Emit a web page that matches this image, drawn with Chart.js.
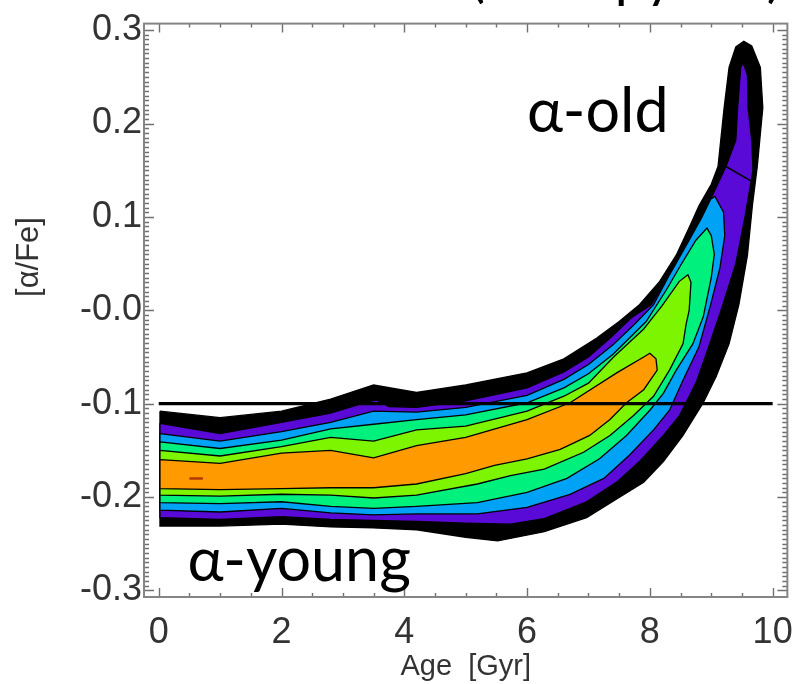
<!DOCTYPE html>
<html>
<head>
<meta charset="utf-8">
<script src="https://cdn.jsdelivr.net/npm/chart.js@4.4.1/dist/chart.umd.min.js"></script>
<style>
  html, body { margin: 0; padding: 0; background: #fff; }
  canvas { display: block; }
</style>
</head>
<body>
<canvas id="chart" width="807" height="684" style="width:807px;height:684px"></canvas>
<script>
// --- axis ticks ---
const X_TICKS = [0, 2, 4, 6, 8, 10];
const Y_TICKS = [-0.3, -0.2, -0.1, 0, 0.1, 0.2, 0.3];
const Y_TICK_LABELS = ['-0.3', '-0.2', '-0.1', '-0.0', '0.1', '0.2', '0.3'];

// --- contour levels, outermost first: [age, alpha/Fe] ---
const LEVEL_BLACK = [
  [0.02,-0.108],[1.0,-0.115],[2.0,-0.108],[2.8,-0.095],[3.5,-0.080],[4.2,-0.088],[5.0,-0.080],[6.0,-0.067],
  [6.6,-0.052],[7.13,-0.030],[7.5,-0.012],[7.83,0.006],[8.15,0.030],[8.43,0.059],[8.65,0.090],[8.80,0.112],
  [9.0,0.135],[9.11,0.154],[9.21,0.217],[9.29,0.260],[9.40,0.282],[9.53,0.288],[9.66,0.283],[9.80,0.260],
  [9.84,0.217],[9.75,0.154],[9.67,0.112],[9.59,0.059],[9.45,0.006],[9.29,-0.036],[9.08,-0.071],[8.87,-0.099],
  [8.54,-0.134],[8.22,-0.162],[7.90,-0.184],[7.46,-0.202],[6.97,-0.222],[6.28,-0.237],[5.52,-0.247],[5.0,-0.243],
  [4.2,-0.235],[3.5,-0.233],[2.8,-0.232],[2.0,-0.229],[1.0,-0.231],[0.02,-0.231],[0.02,-0.108]
];
const LEVEL_PURPLE = [
  [0.02,-0.121],[1.0,-0.132],[2.0,-0.120],[2.8,-0.110],[3.4,-0.098],[3.55,-0.096],[3.75,-0.103],[4.2,-0.104],
  [5.0,-0.097],[6.0,-0.083],[6.6,-0.066],[7.0,-0.050],[7.35,-0.030],[7.7,-0.008],[8.02,0.006],[8.3,0.035],
  [8.60,0.059],[8.94,0.112],[9.24,0.154],[9.40,0.182],[9.43,0.217],[9.48,0.260],[9.52,0.265],[9.59,0.252],
  [9.60,0.217],[9.66,0.182],[9.68,0.150],[9.55,0.100],[9.40,0.050],[9.19,0.006],[8.96,-0.039],[8.75,-0.078],
  [8.48,-0.113],[8.22,-0.134],[7.83,-0.162],[7.46,-0.184],[6.97,-0.205],[6.28,-0.223],[5.73,-0.229],[5.0,-0.228],
  [4.2,-0.226],[3.5,-0.225],[2.8,-0.224],[2.0,-0.221],[1.0,-0.224],[0.02,-0.222],[0.02,-0.121]
];
const LEVEL_BLUE = [
  [0.02,-0.132],[1.0,-0.140],[2.0,-0.130],[2.8,-0.120],[3.5,-0.108],[4.2,-0.109],[5.0,-0.104],[6.0,-0.091],
  [6.6,-0.074],[7.0,-0.058],[7.4,-0.037],[7.75,-0.015],[8.06,0.006],[8.32,0.038],[8.64,0.075],[8.85,0.100],
  [8.99,0.119],[9.06,0.122],[9.20,0.105],[9.22,0.080],[9.14,0.045],[8.99,0.006],[8.80,-0.039],[8.54,-0.075],
  [8.32,-0.107],[8.06,-0.128],[7.67,-0.155],[7.25,-0.180],[6.70,-0.197],[6.0,-0.211],[5.19,-0.218],[4.2,-0.218],
  [3.5,-0.219],[2.8,-0.217],[2.0,-0.212],[1.0,-0.216],[0.02,-0.214],[0.02,-0.132]
];
const LEVEL_GREEN = [
  [0.02,-0.141],[1.0,-0.148],[2.0,-0.139],[2.8,-0.127],[3.5,-0.122],[4.2,-0.117],[5.0,-0.112],[6.0,-0.099],
  [6.6,-0.083],[7.0,-0.068],[7.4,-0.047],[7.94,-0.012],[8.27,0.022],[8.5,0.048],[8.75,0.075],[8.93,0.088],
  [9.0,0.080],[9.05,0.060],[9.0,0.035],[8.87,-0.007],[8.70,-0.036],[8.43,-0.064],[8.22,-0.089],[8.0,-0.107],
  [7.62,-0.134],[7.18,-0.159],[6.65,-0.180],[6.0,-0.195],[5.19,-0.206],[4.2,-0.210],[3.5,-0.212],[2.8,-0.210],
  [2.0,-0.205],[1.0,-0.207],[0.02,-0.206],[0.02,-0.141]
];
const LEVEL_LIME = [
  [0.02,-0.150],[1.0,-0.156],[2.0,-0.146],[2.8,-0.136],[3.5,-0.140],[4.2,-0.128],[5.0,-0.124],[6.0,-0.108],
  [6.6,-0.092],[7.0,-0.078],[7.41,-0.050],[7.9,-0.020],[8.2,0.005],[8.48,0.031],[8.62,0.038],[8.67,0.030],
  [8.64,0.000],[8.59,-0.015],[8.54,-0.036],[8.32,-0.064],[8.06,-0.092],[7.73,-0.113],[7.35,-0.134],[6.92,-0.152],
  [6.28,-0.170],[5.73,-0.177],[5.19,-0.186],[4.2,-0.198],[3.5,-0.201],[2.8,-0.198],[2.0,-0.197],[1.0,-0.199],
  [0.02,-0.198],[0.02,-0.150]
];
const LEVEL_ORANGE = [
  [0.02,-0.160],[1.0,-0.164],[2.0,-0.153],[2.8,-0.150],[3.5,-0.158],[4.2,-0.145],[5.0,-0.136],[6.0,-0.117],
  [6.7,-0.099],[7.46,-0.067],[7.9,-0.050],[8.0,-0.046],[8.1,-0.052],[8.12,-0.064],[7.9,-0.085],[7.62,-0.099],
  [7.35,-0.117],[7.02,-0.134],[6.54,-0.149],[6.0,-0.159],[5.47,-0.166],[5.0,-0.175],[4.2,-0.186],[3.5,-0.190],
  [2.8,-0.190],[2.0,-0.191],[1.0,-0.192],[0.02,-0.191],[0.02,-0.160]
];
const PEAK_DASH = [[0.50,-0.180],[0.72,-0.180]];
const TIP_SPLIT = [[9.24,0.154],[9.66,0.138]];
const THRESHOLD = [[0, -0.1], [10, -0.1]];

const LEVEL_COLORS = ['#000000', '#5a0ad6', '#00a2f5', '#00f07e', '#7df500', '#ff9a00'];

// --- labels placed in data space ---
const OLD_LABEL = { text: '\u03b1-old', x: 6.0, y: 0.191 };
const YOUNG_LABEL = { text: '\u03b1-young', x: 0.47, y: -0.290 };

const toPts = arr => arr.map(([x, y]) => ({ x, y }));

const levels = [LEVEL_BLACK, LEVEL_PURPLE, LEVEL_BLUE, LEVEL_GREEN, LEVEL_LIME, LEVEL_ORANGE];
const datasets = levels.map((lvl, i) => ({
  data: toPts(lvl),
  backgroundColor: LEVEL_COLORS[i],
  borderColor: '#000',
  borderWidth: 1.3,
  fill: 'shape',
  order: 20 - i
}));
datasets.push({ data: toPts(TIP_SPLIT), borderColor: '#000', borderWidth: 1.5, fill: false, order: 3 });
datasets.push({ data: toPts(PEAK_DASH), borderColor: '#b33a00', borderWidth: 2.5, fill: false, order: 2 });
datasets.push({ data: toPts(THRESHOLD), borderColor: '#000', borderWidth: 3.2, fill: false, order: 1 });

// --- frame + inward ticks on all four sides, IDL style ---
const framePlugin = {
  id: 'frame',
  afterDatasetsDraw(chart) {
    const { ctx, chartArea: a, scales: { x, y } } = chart;
    ctx.save();
    ctx.strokeStyle = '#707070';
    ctx.lineWidth = 1.4;
    ctx.beginPath();
    for (let v = 0; v <= 10.0001; v += 0.5) {
      const px = Math.round(x.getPixelForValue(v)) + 0.5;
      const len = Math.abs(v / 2 - Math.round(v / 2)) < 1e-6 ? 9 : 4;
      ctx.moveTo(px, a.bottom); ctx.lineTo(px, a.bottom - len);
      ctx.moveTo(px, a.top); ctx.lineTo(px, a.top + len);
    }
    for (let k = -60; k <= 60; k++) {
      const v = k * 0.005;
      const py = Math.round(y.getPixelForValue(v)) + 0.5;
      const len = k % 20 === 0 ? 10 : 5;
      ctx.moveTo(a.left, py); ctx.lineTo(a.left + len, py);
      ctx.moveTo(a.right, py); ctx.lineTo(a.right - len, py);
    }
    ctx.stroke();
    ctx.strokeStyle = '#858585';
    ctx.lineWidth = 2;
    ctx.strokeRect(a.left, a.top, a.right - a.left, a.bottom - a.top);
    ctx.restore();
  }
};

// --- annotations ---
const textPlugin = {
  id: 'texts',
  afterDraw(chart) {
    const { ctx, scales: { x, y } } = chart;
    ctx.save();
    ctx.fillStyle = '#000';
    ctx.textAlign = 'left';
    ctx.textBaseline = 'alphabetic';
    ctx.font = '61px Lato';
    ctx.fillText(OLD_LABEL.text, x.getPixelForValue(OLD_LABEL.x), y.getPixelForValue(OLD_LABEL.y));
    ctx.fillText(YOUNG_LABEL.text, x.getPixelForValue(YOUNG_LABEL.x), y.getPixelForValue(YOUNG_LABEL.y));
    // heading cut off by the top edge
    ctx.font = '56px Lato';
    ctx.fillText('(entropy cut)', 470, -4);
    // y axis title
    ctx.fillStyle = '#333';
    ctx.font = '31px "Liberation Sans"';
    ctx.translate(29, 257);
    ctx.rotate(-Math.PI / 2);
    ctx.textAlign = 'center';
    ctx.textBaseline = 'middle';
    ctx.fillText('[\u03b1/Fe]', 0, 0);
    ctx.restore();
  }
};

const tickFont = { family: '"Liberation Sans", Arial, sans-serif', size: 36 };

new Chart(document.getElementById('chart'), {
  type: 'line',
  data: { datasets },
  options: {
    responsive: false,
    animation: false,
    events: [],
    layout: { padding: { top: 15, right: 15, left: 0, bottom: 0 } },
    elements: { point: { radius: 0 }, line: { tension: 0 } },
    plugins: { legend: { display: false }, tooltip: { enabled: false } },
    scales: {
      x: {
        type: 'linear',
        min: -0.24,
        max: 10.24,
        afterBuildTicks: s => { s.ticks = X_TICKS.map(v => ({ value: v })); },
        afterFit: s => { s.height = 87; },
        grid: { display: false, drawTicks: false },
        border: { display: false },
        ticks: { font: tickFont, color: '#333', padding: 14, maxRotation: 0, autoSkip: false },
        title: { display: true, text: 'Age  [Gyr]', font: { family: '"Liberation Sans", Arial, sans-serif', size: 29 }, color: '#333', padding: { top: 0, bottom: 0 } }
      },
      y: {
        type: 'linear',
        min: -0.307,
        max: 0.307,
        afterBuildTicks: s => { s.ticks = Y_TICKS.map(v => ({ value: v })); },
        afterFit: s => { s.width = 144; },
        grid: { display: false, drawTicks: false },
        border: { display: false },
        ticks: { font: tickFont, color: '#333', padding: 2, autoSkip: false, callback: (v, i) => Y_TICK_LABELS[i] }
      }
    }
  },
  plugins: [framePlugin, textPlugin]
});
</script>
</body>
</html>
